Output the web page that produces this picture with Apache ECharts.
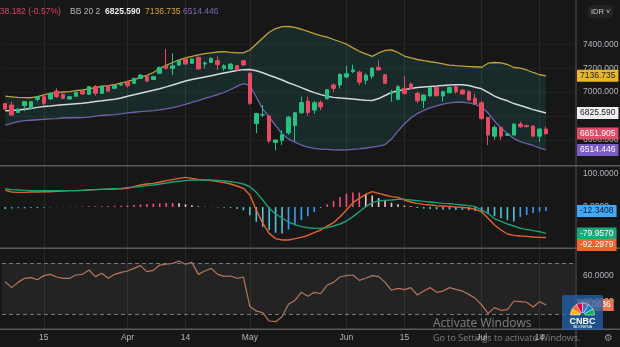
<!DOCTYPE html>
<html><head><meta charset="utf-8">
<script src="https://cdn.jsdelivr.net/npm/echarts@6/dist/echarts.min.js"></script>
<style>html,body{margin:0;padding:0;background:#171717;}#c{width:620px;height:347px;}</style>
</head><body><div id="c"></div>
<script>
// ---------------- data ----------------
const timeTickIdx = [6, 19, 28, 38, 53, 62, 74, 83];
const timeTickLabels = ['15', 'Apr', '14', 'May', 'Jun', '15', 'Jul', '14'];

const opens = [6903,6892,6830,6886,6864,6940,6962,6943,7009,6981,
6943,6965,7009,6982,7046,6990,7054,7032,7060,7088,
7074,7116,7130,7107,7158,7220,7200,7228,7278,7242,
7292,7236,7250,7264,7200,7194,7222,7264,7158,6735,
6808,6800,6578,6595,6658,6720,6826,6925,6850,6912,
6944,7060,7060,7127,7172,7168,7100,7134,7208,7146,
6992,6940,7032,7068,6990,6928,6968,7040,6968,6995,
7046,7018,7004,6948,6911,6788,6630,6704,6638,6640,
6732,6720,6715,6630,6690];
const closes = [6858,6808,6858,6920,6920,6960,6906,6990,6962,6948,
6962,6998,6984,7046,6990,7052,7009,7054,7066,7054,
7116,7144,7093,7130,7208,7200,7220,7264,7236,7278,
7194,7245,7284,7231,7222,7236,7186,7228,6906,6820,
6812,6590,6598,6642,6790,6827,6912,6828,6911,6876,
7020,7032,7148,7154,7186,7084,7142,7202,7188,7074,
6998,7046,6990,7032,6928,6976,7040,6970,7004,7040,
7004,6984,6934,6900,6780,6640,6704,6630,6648,6732,
6710,6710,6630,6690.087,6651.905];
const lows = [6850,6802,6822,6840,6860,6920,6886,6938,6950,6940,
6938,6960,6980,6978,6970,6985,7004,7028,7052,7038,
7070,7110,7082,7100,7154,7190,7144,7222,7230,7238,
7190,7200,7245,7186,7180,7190,7180,7222,6892,6654,
6790,6574,6510,6556,6640,6590,6820,6800,6818,6850,
6940,7000,7030,7115,7160,7060,7065,7110,7180,7068,
6920,6930,6980,7028,6908,6866,6962,6962,6920,6990,
6985,6980,6928,6895,6766,6556,6600,6598,6632,6636,
6700,6704,6625,6584,6640];
const highs = [6910,6920,6865,6925,6925,6968,6976,6995,7032,6990,
6968,7004,7015,7052,7060,7058,7058,7060,7085,7094,
7120,7150,7144,7136,7214,7362,7326,7270,7284,7284,
7298,7258,7290,7300,7234,7242,7228,7270,7166,6826,
6892,6806,6604,6680,6800,6832,6962,6962,6926,6930,
7024,7074,7160,7222,7230,7180,7160,7210,7266,7150,
7020,7060,7135,7082,7004,6980,7046,7046,7012,7046,
7052,7022,7018,6984,6930,6792,6724,6710,6654,6738,
6752,6726,6720,6694,6710];

const bbUpper = [6966,6961,6956,6954,6953,6963,6977,6990,6996,7001,
7005,7012,7018,7028,7039,7048,7054,7063,7075,7090,
7105,7123,7141,7165,7199,7225,7249,7271,7288,7301,
7312,7323,7330,7337,7340,7334,7329,7330,7354,7404,
7455,7503,7534,7550,7551,7543,7528,7510,7491,7475,
7461,7442,7423,7404,7372,7343,7322,7300,7329,7350,
7354,7333,7303,7287,7274,7264,7255,7247,7238,7226,
7222,7219,7215,7213,7209,7243,7249,7246,7232,7207,
7201,7186,7165,7146,7136.735];
const bbMiddle = [6843,6846,6851,6857,6862,6872,6880,6884,6889,6895,
6899,6903,6906,6913,6921,6927,6934,6940,6951,6966,
6978,6990,7004,7016,7029,7044,7060,7077,7093,7106,
7117,7127,7137,7150,7161,7172,7182,7189,7190,7179,
7163,7142,7123,7102,7079,7059,7038,7016,6996,6979,
6966,6956,6950,6946,6942,6937,6932,6930,6946,6972,
6997,7011,7021,7030,7038,7044,7048,7051,7055,7059,
7063,7062,7055,7041,7028,6998,6967,6944,6927,6904,
6888,6871,6853,6839,6825.59];
const bbLower = [6724,6738,6752,6760,6764,6768,6772,6775,6778,6783,
6785,6785,6786,6791,6798,6804,6808,6812,6818,6825,
6831,6836,6840,6845,6851,6859,6870,6883,6897,6915,
6929,6948,6963,6979,6997,7022,7049,7072,7056,6959,
6858,6791,6720,6648,6606,6581,6556,6539,6528,6522,
6519,6516,6514,6516,6520,6524,6531,6539,6547,6560,
6606,6673,6732,6783,6820,6846,6867,6885,6899,6909,
6915,6915,6909,6898,6875,6825,6757,6699,6652,6610,
6585,6568,6552,6531,6514.446];

const macdLine = [51.5,45.4,44.4,44.4,45.4,45.4,46.4,46.4,47.4,48.5,
49.5,49.5,50.5,51.5,52.5,53.5,53.5,54.5,55.5,56.5,
61.6,66.6,69.7,71.7,75.7,79.8,82.8,86.8,89.9,86.8,
83.8,81.8,79.8,76.7,73.7,69.7,63.6,56.5,36.3,-9.1,
-49.5,-79.8,-96,-100,-100,-96,-91.9,-85.9,-77.8,-69.7,
-57.6,-47.5,-29.3,-9.1,13.1,26.2,38.4,46.4,41.4,36.3,
31.3,29.3,21.2,15.1,11.1,8.1,6.0,4.0,3.0,2.0,
0,-1.0,-3.1,-7.1,-14.2,-34.4,-54.6,-69.7,-81.8,-85.9,
-87.9,-88.9,-90.9,-91.9,-92.2979];
const signalLine = [55.5,52.5,51.5,50.5,49.5,49.5,49.5,49.5,49.5,49.5,
49.5,49.5,50.5,51.5,52.5,53.5,54.5,55.5,56.5,58.6,
60.6,61.6,64.6,66.6,69.7,72.7,75.7,77.8,79.8,81.8,
81.8,81.8,81.8,80.8,78.8,76.7,73.7,69.7,61.6,44.4,
21.2,-4.1,-21.2,-33.4,-45.5,-53.6,-59.6,-62.7,-64.7,-64.7,
-62.7,-57.6,-51.5,-42.4,-29.3,-14.2,1.0,13.1,18.2,20.2,
21.2,23.2,23.2,21.2,19.2,17.1,15.1,13.1,11.1,10.1,
8.1,6.0,4.0,1.0,-9.1,-19.2,-35.4,-43.5,-51.5,-57.6,
-64.7,-67.7,-71.7,-74.8,-79.957];
const macdHist = [-6,-5,-4,-4,-3,-3,-2,-1,0.5,1,
1,1,1.5,2,2,2.5,3,3.5,4,5,
6,8,9,10,11,12,12,11,8,5,
2,1,0.5,-1,-2,-3,-6,-10,-25,-45,
-60,-70,-78,-80,-68,-55,-40,-28,-15,-3,
8,18,30,40,44,44,40,35,27,20,
13,8,4,2,-3,-5,-6,-7,-8,-8,
-9,-9,-10,-12,-16,-22,-28,-34,-40,-44,
-30,-24,-18,-14,-12.3408];

const rsiValues = [55.4,50.7,54.8,58.0,58.5,56.9,60.1,61.1,59.0,58.0,
58.0,60.6,61.1,64.5,59.3,61.9,58.0,61.1,62.7,63.7,
65.8,67.9,63.2,64.2,68.4,69.0,69.7,71.6,69.0,70.5,
61.1,63.7,65.8,61.1,59.5,59.8,58.0,59.0,35.8,32.4,
31.0,24.5,24.0,27.9,37.6,40.7,47.0,43.9,47.0,45.9,
52.7,54.8,59.0,60.1,60.6,56.4,58.0,60.1,59.3,54.8,
48.6,50.1,49.1,50.7,44.9,48.0,50.7,47.0,48.0,50.7,
49.3,48.0,45.4,42.3,37.1,30.5,35.0,32.9,33.4,40.2,
39.7,39.2,35.5,39.7,37.0636];

const priceTicks = [6600, 6800, 7000, 7200, 7400];
const macdTicks = [0, 100];
const rsiTicks = [40, 60];
const rsiBand = [30, 70];
const priceChange = '-38.182 (-0.57%)';
const bbSettings = 'BB 20 2';

// ---------------- build ----------------
const SLOTS = 89;
const categories = [];
for (let i = 0; i < SLOTS; i++) categories.push(String(i));
const candleData = opens.map((o, i) => [o, closes[i], lows[i], highs[i]]);
const bbSpan = bbUpper.map((u, i) => +(u - bbLower[i]).toFixed(3));
const last = closes.length - 1;

const FONT = 'Liberation Sans';
const AX = '#b2b5be';
const BG = '#171717';
const GRIDV = '#2a2a2a';
const UP = '#28c184', DOWN = '#e54b62';

function histColor(i) {
  const v = macdHist[i], p = i > 0 ? macdHist[i - 1] : v;
  if (v >= 0) return v >= p ? '#ee4f7c' : '#f6c3d0';
  return v <= p ? '#55c4d6' : '#3d9ff2';
}

const isTick = (idx) => timeTickIdx.indexOf(idx) >= 0;
function xAxisFor(g, showLabels) {
  return {
    type: 'category', gridIndex: g, data: categories, boundaryGap: true,
    axisLine: { show: false }, axisTick: { show: false },
    axisLabel: {
      show: showLabels, interval: (idx) => isTick(idx),
      formatter: (val, idx) => timeTickLabels[timeTickIdx.indexOf(idx)] || '',
      color: AX, fontSize: 8.5, fontFamily: FONT, margin: 5
    },
    splitLine: { show: true, interval: (idx) => isTick(idx), alignWithLabel: true, lineStyle: { color: GRIDV, width: 1 } }
  };
}
function yAxisFor(g, min, max, ticks, dec, split) {
  return {
    type: 'value', gridIndex: g, position: 'right', min: min, max: max,
    axisLine: { show: false },
    axisTick: { show: false, customValues: ticks },
    axisLabel: { customValues: ticks, color: AX, fontSize: 8.5, fontFamily: FONT, margin: 8,
      formatter: (v) => Number(v).toFixed(dec) },
    splitLine: { show: split, lineStyle: { color: '#212121', width: 1 } }
  };
}

const gridBase = { left: 2, right: 45, outerBoundsMode: 'none', containLabel: false };
const option = {
  backgroundColor: BG,
  animation: false,
  grid: [
    Object.assign({ top: 0, height: 165 }, gridBase),
    Object.assign({ top: 166, height: 81.5 }, gridBase),
    Object.assign({ top: 249, height: 79.5 }, gridBase)
  ],
  xAxis: [xAxisFor(0, false), xAxisFor(1, false), xAxisFor(2, true)],
  yAxis: [
    yAxisFor(0, 6388.2, 7773.6, priceTicks, 3, true),
    yAxisFor(1, -122.7, 124.2, macdTicks, 4, false),
    yAxisFor(2, 18.63, 80.98, rsiTicks, 4, false)
  ],
  series: [
    { type: 'line', xAxisIndex: 0, yAxisIndex: 0, data: bbLower, stack: 'bb', showSymbol: false, silent: true,
      lineStyle: { opacity: 0 }, z: 1 },
    { type: 'line', xAxisIndex: 0, yAxisIndex: 0, data: bbSpan, stack: 'bb', showSymbol: false, silent: true,
      lineStyle: { opacity: 0 }, areaStyle: { color: 'rgba(40,165,160,0.2)' }, z: 1 },
    { type: 'line', xAxisIndex: 0, yAxisIndex: 0, data: bbUpper, showSymbol: false, silent: true,
      lineStyle: { color: '#c2a236', width: 1.3 }, z: 2 },
    { type: 'line', xAxisIndex: 0, yAxisIndex: 0, data: bbMiddle, showSymbol: false, silent: true,
      lineStyle: { color: '#d3d8de', width: 1.5 }, z: 2 },
    { type: 'line', xAxisIndex: 0, yAxisIndex: 0, data: bbLower, showSymbol: false, silent: true,
      lineStyle: { color: '#6e63ab', width: 1.3 }, z: 2 },
    { type: 'candlestick', xAxisIndex: 0, yAxisIndex: 0, data: candleData, barWidth: 4, silent: true, z: 3,
      itemStyle: { color: UP, color0: DOWN, borderColor: UP, borderColor0: DOWN, borderColorDoji: UP, borderWidth: 1 } },
    { type: 'bar', xAxisIndex: 1, yAxisIndex: 1, data: macdHist, barWidth: 1.6, silent: true, z: 2,
      itemStyle: { color: (p) => histColor(p.dataIndex) } },
    { type: 'line', xAxisIndex: 1, yAxisIndex: 1, data: macdLine, showSymbol: false, silent: true, clip: false,
      lineStyle: { color: '#e4652c', width: 1.4 }, z: 3 },
    { type: 'line', xAxisIndex: 1, yAxisIndex: 1, data: signalLine, showSymbol: false, silent: true, clip: false,
      lineStyle: { color: '#1f9f78', width: 1.4 }, z: 3 },
    { type: 'line', xAxisIndex: 2, yAxisIndex: 2, data: rsiValues, showSymbol: false, silent: true,
      lineStyle: { color: '#b97460', width: 1.2 }, z: 3,
      markArea: { silent: true, itemStyle: { color: 'rgba(255,255,255,0.055)' },
        data: [[{ yAxis: rsiBand[0] }, { yAxis: rsiBand[1] }]] },
      markLine: { silent: true, symbol: 'none', label: { show: false },
        lineStyle: { color: '#74777f', type: [4, 3], width: 1 },
        data: [{ yAxis: rsiBand[1] }, { yAxis: rsiBand[0] }] } }
  ]
};

const chart = echarts.init(document.getElementById('c'), null, { renderer: 'canvas' });
chart.setOption(option);

// ---------------- overlays (value boxes, legend, watermarks) ----------------
const boxes = [
  { axis: 0, v: bbUpper[last], bg: '#e9b826', fg: '#1b1b1b', dec: 3 },
  { axis: 0, v: bbMiddle[last], bg: '#eef0f3', fg: '#1b1b1b', dec: 3 },
  { axis: 0, v: closes[last], bg: '#e04d66', fg: '#ffffff', dec: 3 },
  { axis: 0, v: bbLower[last], bg: '#7b5bc6', fg: '#ffffff', dec: 3 },
  { axis: 1, v: macdHist[last], bg: '#44a8f4', fg: '#0d1b2a', dec: 4 },
  { axis: 1, v: signalLine[last], bg: '#1fa57b', fg: '#ffffff', dec: 4 },
  { axis: 1, v: macdLine[last], bg: '#f2622b', fg: '#ffffff', dec: 4 },
  { axis: 2, v: rsiValues[last], bg: '#e8744a', fg: '#ffffff', dec: 4 }
];
boxes.forEach(b => { b.y = chart.convertToPixel({ yAxisIndex: b.axis }, b.v); });
[0, 1, 2].forEach(ax => {
  const grp = boxes.filter(b => b.axis === ax).sort((a, b) => a.y - b.y);
  for (let i = 1; i < grp.length; i++) {
    if (grp[i].y - grp[i - 1].y < 11.5) grp[i].y = grp[i - 1].y + 11.5;
  }
});

const gfx = [];
const T = (x, y, text, fill, font, extra) => gfx.push({
  type: 'text', x: x, y: y, z: 60, silent: true,
  style: Object.assign({ text: text, fill: fill, font: font, verticalAlign: 'middle', align: 'left' }, (extra || {}))
});
const F = (s, w) => (w ? w + ' ' : '') + s + 'px ' + FONT;

// pane separators & price-axis border
[[165, 1.5], [247.5, 1.5], [328.5, 1.5]].forEach(s => gfx.push({ type: 'rect', silent: true, z: 40,
  shape: { x: 0, y: s[0], width: 620, height: s[1] }, style: { fill: '#5a5a5a' } }));
gfx.push({ type: 'rect', silent: true, z: 40, shape: { x: 575.5, y: 0, width: 1, height: 347 }, style: { fill: '#555555' } });

// value boxes
boxes.forEach(b => T(577, b.y, b.v.toFixed(b.dec), b.fg, F(8.5), { backgroundColor: b.bg, padding: [2, 3, 1, 3] }));

// legend header
T(-3, 12, priceChange, '#d9475f', F(8.5));
T(70, 12, bbSettings, AX, F(8.5));
T(105, 12, bbMiddle[last].toFixed(3), '#ececec', F(8.5, 'bold'));
T(145, 12, bbUpper[last].toFixed(3), '#d8a93a', F(8.5));
T(183, 12, bbLower[last].toFixed(3), '#7a66b8', F(8.5));

// currency button
gfx.push({ type: 'rect', silent: true, z: 59, shape: { x: 588, y: 5, width: 25, height: 13, r: 3 }, style: { fill: '#232323' } });
T(591, 11.5, 'IDR ˅', '#c8cbd2', F(7.5));

// CNBC logo
gfx.push({ type: 'rect', silent: true, z: 70, shape: { x: 562, y: 295, width: 41, height: 35, r: 2 }, style: { fill: 'rgba(33,96,168,0.78)' } });
const peacock = ['#fcb711', '#f37021', '#cc004c', '#6460aa', '#0089d0', '#0db14b'];
peacock.forEach((c, i) => gfx.push({ type: 'sector', silent: true, z: 71,
  shape: { cx: 582.5, cy: 315, r: 12, r0: 2.5, startAngle: Math.PI + i * Math.PI / 6, endAngle: Math.PI + (i + 1) * Math.PI / 6 },
  style: { fill: c, stroke: 'rgba(255,255,255,0.8)', lineWidth: 0.6 } }));
gfx.push({ type: 'text', silent: true, z: 72, x: 582.5, y: 321.5, style: { text: 'CNBC', fill: '#ffffff', font: F(9, 'bold'), align: 'center', verticalAlign: 'middle' } });
gfx.push({ type: 'text', silent: true, z: 72, x: 582.5, y: 327, style: { text: 'INDONESIA', fill: '#ffffff', font: F(3.5), align: 'center', verticalAlign: 'middle' } });

// Windows watermark
gfx.push({ type: 'text', silent: true, z: 80, x: 433, y: 324, style: { text: 'Activate Windows', fill: 'rgba(210,210,210,0.55)', font: '12px Open Sans', verticalAlign: 'middle' } });
gfx.push({ type: 'text', silent: true, z: 80, x: 433, y: 338.5, style: { text: 'Go to Settings to activate Windows.', fill: 'rgba(210,210,210,0.55)', font: '9px Open Sans', verticalAlign: 'middle' } });
gfx.push({ type: 'text', silent: true, z: 80, x: 604, y: 338, style: { text: '⚙', fill: '#8d8f96', font: '10px DejaVu Sans', verticalAlign: 'middle' } });

chart.setOption({ graphic: gfx });
</script>
</body></html>
